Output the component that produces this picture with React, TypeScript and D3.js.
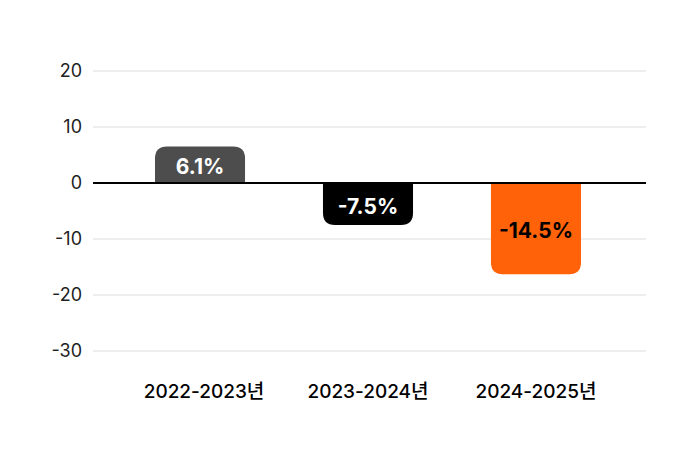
import React from "react";
import * as d3 from "d3";

const categories = ["2022-2023년", "2023-2024년", "2024-2025년"];
const barValues = [6.5, -7.5, -16.3];
const barLabels = ["6.1%", "-7.5%", "-14.5%"];
const barColors = ["#4d4d4d", "#000000", "#ff6208"];
const labelColors = ["#ffffff", "#ffffff", "#000000"];
const yTicks = [20, 10, 0, -10, -20, -30];

const W = 689;
const H = 450;

function barPath(x: number, w: number, y0: number, y1: number, r: number) {
  const dir = y1 < y0 ? -1 : 1;
  const len = Math.abs(y1 - y0);
  const rr = Math.min(r, len, w / 2);
  const p = d3.path();
  p.moveTo(x, y0);
  p.lineTo(x, y1 - dir * rr);
  p.quadraticCurveTo(x, y1, x + rr, y1);
  p.lineTo(x + w - rr, y1);
  p.quadraticCurveTo(x + w, y1, x + w, y1 - dir * rr);
  p.lineTo(x + w, y0);
  p.closePath();
  return p.toString();
}

export default function App() {
  const y = d3.scaleLinear().domain([-30, 20]).range([351, 71]);
  const x = d3.scaleBand<string>().domain(categories).range([113, 623]).paddingInner(0.464).paddingOuter(0.25);
  const font = "Inter, 'Noto Sans CJK KR', sans-serif";
  return (
    <svg width={W} height={H} style={{ position: "absolute", left: 0, top: 0 }}>
      <rect width={W} height={H} fill="#fff" />
      {yTicks.map((t) => (
        <g key={t}>
          {t !== 0 && <line x1={93} x2={646} y1={y(t)} y2={y(t)} stroke="#dcdcdc" strokeWidth={1} />}
          <text x={82} y={y(t)} dy="0.36em" textAnchor="end" fontFamily={font} fontSize={18} fill="#222">
            {t}
          </text>
        </g>
      ))}
      {categories.map((c, i) => {
        const bx = x(c)!;
        const bw = x.bandwidth();
        const y0 = y(0);
        const y1 = y(barValues[i]);
        return (
          <g key={c}>
            <path d={barPath(bx, bw, y0, y1, 12)} fill={barColors[i]} />
            <text x={bx + bw / 2} y={(y0 + y1) / 2 + 2} dy="0.36em" textAnchor="middle" fontFamily={font} fontWeight={700} fontSize={21} fill={labelColors[i]}>
              {barLabels[i]}
            </text>
            <text x={bx + bw / 2 + (i === 0 ? 4 : 0)} y={391} dy="0.36em" textAnchor="middle" fontFamily={font} fontWeight={500} fontSize={19} fill="#000">
              {c}
            </text>
          </g>
        );
      })}
      <line x1={93} x2={646} y1={y(0)} y2={y(0)} stroke="#000" strokeWidth={2} />
    </svg>
  );
}
